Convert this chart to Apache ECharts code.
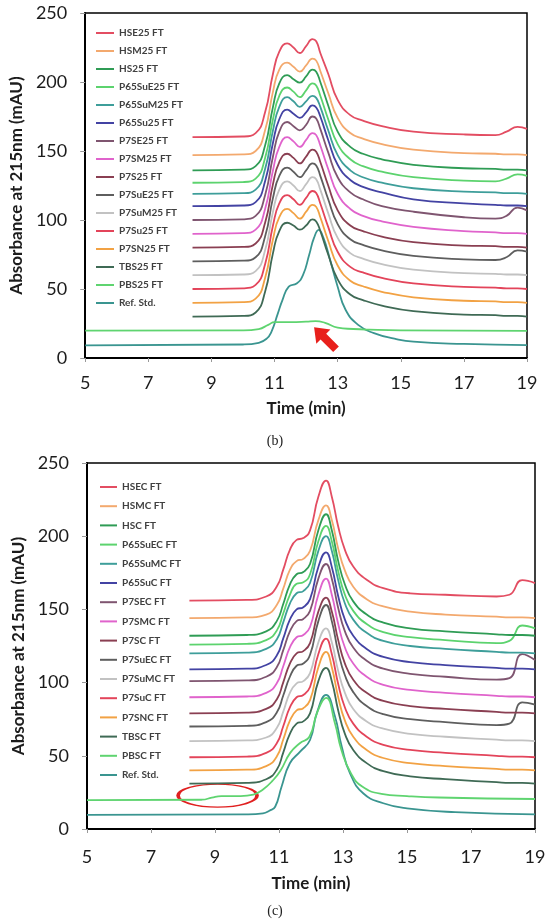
<!DOCTYPE html>
<html>
<head>
<meta charset="utf-8">
<script src="https://cdn.jsdelivr.net/npm/echarts@6.0.0/dist/echarts.min.js"></script>
<style>
  html, body { margin: 0; padding: 0; background: #fff; }
  #main { width: 550px; height: 919px; }
</style>
</head>
<body>
<div id="main"></div>
<script>
// tick labels
var xTicks = [5, 7, 9, 11, 13, 15, 17, 19];

// legend names, panel (b) and (c)
var namesB = ['HSE25 FT', 'HSM25 FT', 'HS25 FT', 'P65SuE25 FT', 'P65SuM25 FT', 'P65Su25 FT', 'P7SE25 FT', 'P7SM25 FT',
  'P7S25 FT', 'P7SuE25 FT', 'P7SuM25 FT', 'P7Su25 FT', 'P7SN25 FT', 'TBS25 FT', 'PBS25 FT', 'Ref. Std.'];
var namesC = ['HSEC FT', 'HSMC FT', 'HSC FT', 'P65SuEC FT', 'P65SuMC FT', 'P65SuC FT', 'P7SEC FT', 'P7SMC FT',
  'P7SC FT', 'P7SuEC FT', 'P7SuMC FT', 'P7SuC FT', 'P7SNC FT', 'TBSC FT', 'PBSC FT', 'Ref. Std.'];

var colors = ['#e34d62', '#f3a96e', '#2f9c55', '#5cd36e', '#3e9e9a', '#4343a3', '#7f5570', '#e063cc',
  '#8a3f52', '#5e5e5e', '#c2c2c2', '#e3445a', '#f2a244', '#3f6a55', '#5fd470', '#3a9590'];

// ---- panel (b): time (min) and absorbance (mAU)
var timeB = [8.4, 10.0, 10.4, 10.7, 10.95, 11.15, 11.4, 11.6, 11.8, 12.0, 12.2, 12.32, 12.45, 12.7, 13.0, 13.4, 13.8, 14.4, 15.4, 17.0, 18.0, 18.35, 18.7, 19.0];
var hse25   = [160, 160.5, 163, 178, 206, 222, 228, 225, 221, 226, 231, 229.5, 221, 206, 187, 176, 172, 168, 164, 162, 161.5, 164, 167.5, 166];
var hsm25   = [147, 147.5, 150, 165, 193, 209, 214, 211, 207.5, 212, 217, 215.5, 208, 192, 174, 163, 159, 155, 151, 148.5, 148, 147.5, 147.5, 147];
var hs25    = [136, 136.5, 139, 154, 182, 199, 205, 202, 199.5, 204, 209, 207.5, 200, 183, 164, 153, 148, 144, 140, 137.5, 137, 136.5, 136.5, 136];
var p65sue25 = [127, 127.5, 130, 145, 173, 190, 196, 193, 189, 194, 199, 197.5, 190, 173, 155, 144, 139, 135, 131, 128.5, 128, 130, 133, 132];
var p65sum25 = [119, 119.5, 122, 137, 165, 182, 189, 186, 182, 186, 190, 188.5, 182, 165, 147, 136, 131, 127, 123, 120.5, 120, 119.5, 119.5, 119];
var p65su25 = [110, 110.5, 113, 128, 156, 173, 180, 177, 174, 178, 183, 181.5, 175, 158, 140, 129, 124, 120, 115, 112, 111, 110.5, 110.5, 110];
var p7se25  = [100, 100.5, 103, 118, 146, 164, 171, 168, 165, 169, 175, 173.5, 166, 149, 131, 120, 115, 110, 106, 102, 101, 103, 109, 107];
var p7sm25  = [90, 90.5, 93, 108, 136, 153, 160, 157, 153, 158, 163, 161.5, 154, 137, 119, 108, 103, 99, 95, 92, 91, 90.5, 90.5, 90];
var p7s25   = [80, 80.5, 83, 98, 126, 142, 148, 145, 141, 146, 151, 149.5, 142, 125, 107, 96, 92, 88, 84, 81.5, 81, 80.5, 80.5, 80];
var p7sue25 = [70, 70.5, 73, 88, 116, 132, 138, 135, 131, 136, 141, 139.5, 132, 115, 97, 86, 82, 78, 74, 71.5, 71, 73, 78, 77];
var p7sum25 = [60, 60.5, 63, 78, 106, 122, 128, 125, 121, 126, 131, 129.5, 122, 105, 87, 76, 72, 68, 64, 61.5, 61, 60.5, 60.5, 60];
var p7su25  = [50, 50.5, 53, 68, 96, 112, 118, 115, 111, 116, 121, 119.5, 112, 95, 77, 66, 62, 58, 54, 51.5, 51, 50.5, 50.5, 50];
var p7sn25  = [40, 40.5, 43, 58, 86, 102, 108, 105, 101, 106, 111, 109.5, 102, 85, 67, 56, 52, 48, 44, 41.5, 41, 40.5, 40.5, 40];
var tbs25   = [30, 30.5, 33, 48, 76, 92, 98, 96, 93, 96, 100.5, 99, 92, 75, 57, 46, 42, 38, 34, 31.5, 31, 30.5, 30.5, 30];
var timePbsB = [5, 10.0, 10.5, 10.8, 11.0, 11.5, 12.0, 12.3, 12.6, 13.0, 13.5, 14.0, 15.0, 19.0];
var pbs25   = [19.8, 20, 21, 24, 26, 26, 26.3, 26.7, 25.5, 22, 21, 20.5, 20, 19.6];
var timeRefB = [5, 10.0, 10.5, 10.75, 10.9, 11.1, 11.25, 11.45, 11.7, 11.9, 12.1, 12.25, 12.4, 12.55, 12.75, 13.0, 13.25, 13.65, 14.15, 14.8, 15.4, 17.0, 19.0];
var refB    = [9.2, 9.8, 11, 14, 19, 32, 42, 51.7, 54, 60, 75, 87, 92.8, 87, 72, 51.7, 35, 24, 18, 14, 11.8, 10.2, 9.4];

// ---- panel (c)
var timeC = [8.2, 10.0, 10.6, 10.93, 11.13, 11.34, 11.55, 11.76, 11.97, 12.23, 12.47, 12.65, 12.85, 13.06, 13.32, 13.74, 14.26, 15.1, 16.2, 17.8, 18.2, 18.6, 19.0];
var hsec    = [156, 156.5, 158.8, 165.6, 177, 190.7, 197.5, 198.7, 204, 227, 238, 227, 206.6, 190.7, 179.3, 170.2, 164.5, 161, 160, 158.8, 160, 170, 168];
var hsmc    = [144, 144.5, 146.5, 153, 164, 177, 183, 184.5, 190, 211, 221, 211, 191.5, 176.5, 165.5, 157, 152, 148.5, 146.5, 145, 144.5, 144.5, 144];
var hsc     = [132, 132.5, 135, 142, 153.5, 167, 174, 175.5, 181, 204, 215, 204, 183, 167, 155.5, 146.5, 141, 137, 135, 133, 132.5, 132.5, 132];
var p65suec = [126, 126.5, 129, 135.5, 147, 160, 167.5, 168.5, 174, 196.5, 207, 196.5, 176, 160, 149, 140, 134.5, 131, 129, 127, 128.5, 139, 137];
var p65sumc = [120, 120.5, 123, 129.5, 141, 154, 161, 162.5, 168, 190, 200, 190, 170, 154, 143, 134, 128.5, 125, 123, 121, 120.5, 120.5, 120];
var p65suc  = [109, 109.5, 112, 118.5, 130, 143, 150, 151.5, 157, 179, 189, 179, 159, 143, 132, 123, 117.5, 114, 112, 110, 109.5, 109.5, 109];
var p7sec   = [101, 101.5, 104, 110.5, 122, 135, 142, 143.5, 149, 171, 181, 171, 151, 135, 124, 115, 109.5, 106, 104, 102, 103, 119.5, 115.5];
var p7smc   = [90, 90.5, 93, 99.5, 111, 124, 131, 132.5, 138, 160, 171, 160, 140, 124, 113, 104, 98.5, 95, 93, 91, 90.5, 90.5, 90];
var p7sc    = [79, 79.5, 82, 88.5, 100, 113, 120, 121.5, 127, 148.5, 158, 148.5, 129, 113, 102, 93, 87.5, 84, 82, 80, 79.5, 79.5, 79];
var p7suec  = [70, 70.5, 73, 79.5, 91, 104, 111.5, 113, 119, 142, 153, 142, 121, 105, 93.5, 84, 78.5, 75, 73, 71, 72, 86.5, 85];
var p7sumc  = [60, 60.5, 62.5, 69, 80, 93, 99.5, 101, 106.5, 127.5, 137, 127.5, 108, 93, 82, 73.5, 68.5, 65, 63, 61, 60.5, 60.5, 60];
var p7suc   = [49, 49.5, 52, 58.5, 70, 83, 90, 91.5, 97, 119.5, 130, 119.5, 99, 83, 72, 63, 57.5, 54, 52, 50, 49.5, 49.5, 49];
var p7snc   = [40, 40.5, 43, 49.5, 61, 74, 81, 82.5, 88, 110.5, 121, 110.5, 90, 74, 63, 54, 48.5, 45, 43, 41, 40.5, 40.5, 40];
var tbsc    = [31, 31.5, 34, 40.5, 52, 65, 72, 73.5, 79, 101, 110, 101, 81, 65, 54, 45, 39.5, 36, 34, 32, 31.5, 31.5, 31];
var timePbsC = [5, 8.6, 8.9, 9.2, 9.8, 10.2, 10.5, 10.8, 11.05, 11.35, 11.65, 11.95, 12.2, 12.47, 12.75, 12.95, 13.25, 13.6, 14.2, 15.0, 16.0, 19.0];
var pbsc    = [19.7, 20, 21.5, 22.5, 22.5, 23.5, 27, 33, 40, 52, 58.6, 63, 80, 89.5, 72, 54, 38, 29, 24, 22.5, 21.5, 20.5];
var timeRefC = [5, 10.0, 10.5, 10.7, 10.88, 11.08, 11.34, 11.66, 11.97, 12.18, 12.47, 12.75, 12.96, 13.22, 13.63, 14.26, 15.0, 16.5, 19.0];
var refC    = [9.6, 10, 10.7, 12.5, 15.2, 28.9, 44.9, 52.8, 60.8, 79, 91.6, 76.8, 56.3, 38, 24.4, 17.6, 14.1, 11.5, 10];

var valsB = [hse25, hsm25, hs25, p65sue25, p65sum25, p65su25, p7se25, p7sm25, p7s25, p7sue25, p7sum25, p7su25, p7sn25, tbs25, pbs25, refB];
var timesB = [timeB, timeB, timeB, timeB, timeB, timeB, timeB, timeB, timeB, timeB, timeB, timeB, timeB, timeB, timePbsB, timeRefB];
var valsC = [hsec, hsmc, hsc, p65suec, p65sumc, p65suc, p7sec, p7smc, p7sc, p7suec, p7sumc, p7suc, p7snc, tbsc, pbsc, refC];
var timesC = [timeC, timeC, timeC, timeC, timeC, timeC, timeC, timeC, timeC, timeC, timeC, timeC, timeC, timeC, timePbsC, timeRefC];

function pairs(t, v) {
  return t.map(function (x, i) { return [x, v[i]]; });
}

var FONT = 'Lato';
var txt = '#1c1c1c';

function xAxisFor(gi) {
  return {
    type: 'value', gridIndex: gi, min: 5, max: 19, interval: 2,
    name: 'Time (min)', nameLocation: 'middle', nameGap: gi === 0 ? 42 : 46,
    nameTextStyle: { fontFamily: FONT, fontSize: 17, fontWeight: 'bold', color: txt },
    axisLine: { lineStyle: { color: '#000', width: 2 } },
    axisTick: { show: true, length: 4, customValues: xTicks, lineStyle: { color: '#999' } },
    axisLabel: { customValues: xTicks, margin: gi === 0 ? 16 : 19, fontFamily: FONT, fontSize: 18, color: txt },
    splitLine: { show: false }
  };
}
function yAxisFor(gi) {
  return {
    type: 'value', gridIndex: gi, min: 0, max: 250, interval: 50,
    name: 'Absorbance at 215nm (mAU)', nameLocation: 'middle', nameGap: 56,
    nameTextStyle: { fontFamily: FONT, fontSize: 17, fontWeight: 'bold', color: txt },
    axisLine: { show: true, lineStyle: { color: '#000', width: 2 } },
    axisTick: { show: true, length: 5, lineStyle: { color: '#999' } },
    axisLabel: { margin: 18, fontFamily: FONT, fontSize: 18, color: txt },
    splitLine: { show: false }
  };
}

var series = [];
namesB.forEach(function (n, i) {
  series.push({
    name: n, type: 'line', xAxisIndex: 0, yAxisIndex: 0,
    data: pairs(timesB[i], valsB[i]), smooth: 0.5,
    symbol: 'none', color: colors[i], lineStyle: { width: 1.8 }, z: 20 - i
  });
});
namesC.forEach(function (n, i) {
  series.push({
    name: n, type: 'line', xAxisIndex: 1, yAxisIndex: 1,
    data: pairs(timesC[i], valsC[i]), smooth: 0.5,
    symbol: 'none', color: colors[i], lineStyle: { width: 1.8 }, z: 20 - i
  });
});

// red arrow on PBS25 FT (b), red ellipse on PBSC FT (c)
series[14].markPoint = {
  silent: true, label: { show: false },
  data: [{ coord: [12.6, 14.3], symbol: 'path://M10,0 L20,11 L14,11 L14,26 L6,26 L6,11 L0,11 Z',
    symbolSize: [20, 31], symbolRotate: 45, itemStyle: { color: '#e8201c' } }]
};
series[30].markPoint = {
  silent: true, label: { show: false },
  data: [{ coord: [9.08, 22.8], symbol: 'circle', symbolSize: [79, 23],
    itemStyle: { color: 'rgba(0,0,0,0)', borderColor: '#e02020', borderWidth: 2 } }]
};

var legendText = { fontFamily: FONT, fontSize: 10, fontWeight: 'bold', color: '#404040', lineHeight: 10 };

var option = {
  animation: false,
  backgroundColor: '#fff',
  title: [
    { text: '(b)', left: 'center', top: 429, textStyle: { fontFamily: 'Liberation Serif', fontSize: 14, fontWeight: 'normal', color: '#222' } },
    { text: '(c)', left: 'center', top: 899, textStyle: { fontFamily: 'Liberation Serif', fontSize: 14, fontWeight: 'normal', color: '#222' } }
  ],
  legend: [
    { data: namesB, orient: 'vertical', left: 96, top: 28, padding: 0, itemGap: 8, itemWidth: 18, itemHeight: 2,
      icon: 'rect', selectedMode: false, textStyle: legendText },
    { data: namesC, orient: 'vertical', left: 100, top: 482, padding: 0, itemGap: 9.2, itemWidth: 17, itemHeight: 2,
      icon: 'rect', selectedMode: false, textStyle: legendText }
  ],
  grid: [
    { left: 81, right: 23, top: 13, height: 345, show: true, borderColor: '#000', borderWidth: 1.5, backgroundColor: 'transparent' },
    { left: 87, right: 15, top: 463, height: 366, show: true, borderColor: '#000', borderWidth: 1.5, backgroundColor: 'transparent' }
  ],
  xAxis: [xAxisFor(0), xAxisFor(1)],
  yAxis: [yAxisFor(0), yAxisFor(1)],
  series: series
};

var chart = echarts.init(document.getElementById('main'));
chart.setOption(option);
</script>
</body>
</html>
